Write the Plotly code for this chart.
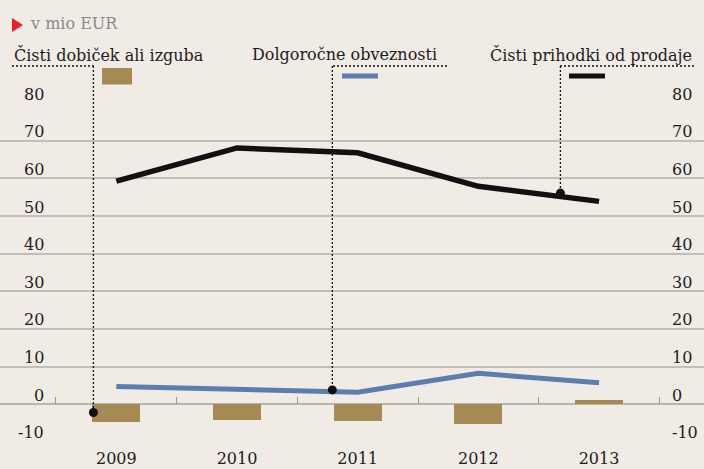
import plotly.graph_objects as go

# ---- data ----
years = [2009, 2010, 2011, 2012, 2013]
cisti_dobicek = [-4.8, -4.3, -4.4, -5.2, 1.1]          # bars
dolgorocne_obveznosti = [4.7, 4.1, 3.2, 8.2, 5.7]      # blue line
cisti_prihodki = [59.3, 68.1, 66.8, 57.9, 53.9]        # black line
y_ticks = [-10, 0, 10, 20, 30, 40, 50, 60, 70, 80]
year_labels = ["2009", "2010", "2011", "2012", "2013"]
callout_x = [2008.81, 2010.79, 2012.68]
callout_y = [-2.2, 3.8, 56.1]
headings = ["Čisti dobiček ali izguba", "Dolgoročne obveznosti", "Čisti prihodki od prodaje"]
unit_label = "v mio EUR"

W, H = 704, 469
T, B = 103, 27
PH = H - T - B
FONT = "DejaVu Serif"
TXT = "#1c1c1c"
BG = "#f0ebe5"
GRID = "#c2beb8"
BROWN = "#a68a55"
BLUE = "#5b7eaf"
BLACK = "#111111"

XR = [2008.036, 2013.87]
YR = [-10.05, 80.05]


def py(px):  # pixel y -> paper y
    return (H - B - px) / PH


def px_x(px):  # pixel x -> paper x
    return px / W


fig = go.Figure()

fig.add_trace(go.Bar(x=years, y=cisti_dobicek, width=0.4, marker=dict(color=BROWN, line=dict(width=0)),
                     hoverinfo="skip"))
fig.add_trace(go.Scatter(x=years, y=dolgorocne_obveznosti, mode="lines",
                         line=dict(color=BLUE, width=5), hoverinfo="skip"))
fig.add_trace(go.Scatter(x=years, y=cisti_prihodki, mode="lines",
                         line=dict(color=BLACK, width=5.5), hoverinfo="skip"))
fig.add_trace(go.Scatter(x=callout_x, y=callout_y, mode="markers", xaxis="x2",
                         marker=dict(color=BLACK, size=9), hoverinfo="skip"))

shapes = []
# leader lines
lead_y_px = 66
h_spans = [(12, 95), (333, 447), (560, 696)]
dash = dict(color=BLACK, width=1.3, dash="2px,2px")
for (a, b), cx, cy in zip(h_spans, callout_x, callout_y):
    shapes.append(dict(type="line", xref="paper", yref="paper", x0=px_x(a), x1=px_x(b),
                       y0=py(lead_y_px), y1=py(lead_y_px), line=dash))
    shapes.append(dict(type="line", xref="x", yref="paper", x0=cx, x1=cx,
                       y0=py(lead_y_px), y1=(cy - YR[0]) / (YR[1] - YR[0]), line=dash))
# legend swatches
shapes.append(dict(type="rect", xref="paper", yref="paper", x0=px_x(102), x1=px_x(132),
                   y0=py(84.5), y1=py(68), fillcolor=BROWN, line=dict(width=0)))
shapes.append(dict(type="line", xref="paper", yref="paper", x0=px_x(342), x1=px_x(378),
                   y0=py(76), y1=py(76), line=dict(color=BLUE, width=5)))
shapes.append(dict(type="line", xref="paper", yref="paper", x0=px_x(569), x1=px_x(605),
                   y0=py(76), y1=py(76), line=dict(color=BLACK, width=5)))
# red pointer triangle before the unit label
shapes.append(dict(type="path", xref="paper", yref="paper",
                   path="M {a},{b} L {c},{d} L {a},{e} Z".format(
                       a=px_x(12), b=py(18), c=px_x(23), d=py(25), e=py(32)),
                   fillcolor="#e3232c", line=dict(width=0)))

annotations = []
for t in y_ticks:
    annotations.append(dict(text=str(t), xref="paper", yref="y", x=px_x(46), y=t, xanchor="right",
                            yanchor="middle", yshift=9, showarrow=False,
                            font=dict(family=FONT, size=16, color=TXT)))
    annotations.append(dict(text=str(t), xref="paper", yref="y", x=px_x(670), y=t, xanchor="left",
                            yanchor="middle", yshift=9, showarrow=False,
                            font=dict(family=FONT, size=16, color=TXT)))
head_x = [12, 250, 488]
for txt, hx in zip(headings, head_x):
    annotations.append(dict(text=txt, xref="paper", yref="paper", x=px_x(hx), y=py(54.5),
                            xanchor="left", yanchor="middle", showarrow=False,
                            font=dict(family=FONT, size=16, color=TXT)))
annotations.append(dict(text=unit_label, xref="paper", yref="paper", x=px_x(28), y=py(24),
                        xanchor="left", yanchor="middle", showarrow=False,
                        font=dict(family=FONT, size=16, color="#8c8a88")))

fig.update_layout(
    width=W, height=H,
    margin=dict(l=0, r=0, t=T, b=B, pad=0),
    paper_bgcolor=BG, plot_bgcolor=BG,
    showlegend=False,
    bargap=0,
    xaxis=dict(range=XR, tickmode="array", tickvals=years, ticktext=year_labels,
               showgrid=False, zeroline=False, showline=False, ticks="",
               ticklabelstandoff=5,
               tickfont=dict(family=FONT, size=16, color=TXT), fixedrange=True),
    xaxis2=dict(range=XR, overlaying="x", anchor="free", position=(0 - YR[0]) / (YR[1] - YR[0]),
                side="bottom", tickmode="array", tickvals=[y - 0.5 for y in years] + [years[-1] + 0.5],
                ticks="inside", ticklen=7, tickwidth=1, tickcolor="#9a9690",
                showticklabels=False, showgrid=False, zeroline=False, showline=False),
    yaxis=dict(range=YR, tickmode="array", tickvals=y_ticks, showticklabels=False,
               showgrid=True, gridcolor=GRID, gridwidth=2,
               zeroline=True, zerolinecolor="#b8b4ae", zerolinewidth=2, fixedrange=True),
    shapes=shapes,
    annotations=annotations,
)

fig.write_html(
    "out.html",
    config={"displayModeBar": False},
    post_script="document.body.style.margin='0';document.body.style.padding='0';"
                "document.body.style.overflow='hidden';document.body.style.background='" + BG + "';",
)
